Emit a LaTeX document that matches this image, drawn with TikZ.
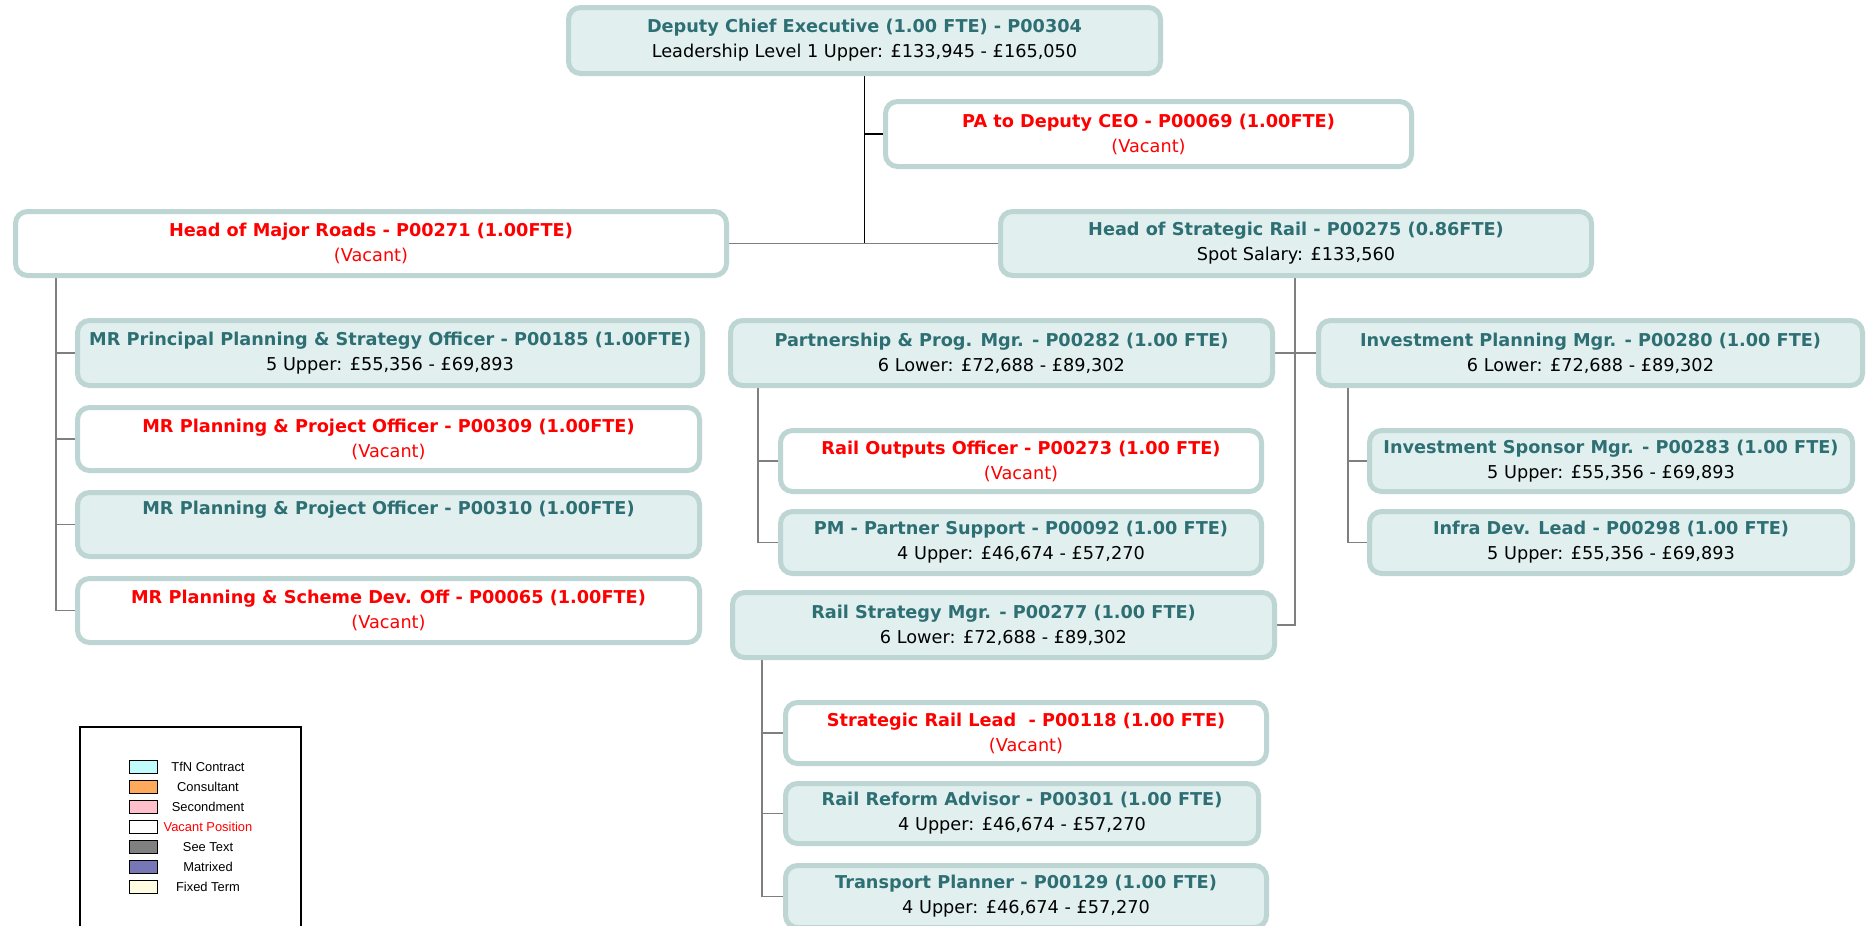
\documentclass[tikz,border=0pt]{standalone}
\usepackage{fontspec}
\setmainfont{DejaVu Sans}
\newfontfamily\legfont{Liberation Sans}
\usetikzlibrary{backgrounds}

\definecolor{edge}{HTML}{BDD5D3}
\definecolor{cell}{HTML}{E1F0EF}
\definecolor{ttl}{HTML}{2E6F74}
\definecolor{wire}{HTML}{7F7F7F}
\definecolor{tfn}{HTML}{C0FCFC}
\definecolor{consult}{HTML}{FFA95C}
\definecolor{second}{HTML}{FFC0CB}
\definecolor{seetext}{HTML}{808080}
\definecolor{matrix}{HTML}{7777B8}
\definecolor{fixed}{HTML}{FFFDE1}

\tikzset{
  post/.style={draw=edge, line width=5pt, rounded corners=12pt, fill=cell,
    align=center, inner sep=0pt, font=\fontsize{17.7}{25}\selectfont},
  vacant/.style={post, fill=white, text=red},
  link/.style={draw=wire, line width=1.8pt},
  toplink/.style={draw=black, line width=1.6pt},
  swatch/.style={draw=black, line width=1pt, minimum width=28pt, minimum height=13pt, inner sep=0pt},
  legtext/.style={font=\legfont\fontsize{12.9}{14}\selectfont, inner sep=0pt}
}

\begin{document}
\begin{tikzpicture}[x=1pt, y=-1pt]
  \clip (0,0) rectangle (1874,926);

  % top level
  \node[post, minimum width=592pt, minimum height=66pt] (dce) at (864.5,40.5)
    {{\bfseries\color{ttl}Deputy Chief Executive (1.00 FTE) - P00304}\\Leadership Level 1 Upper: £133,945 - £165,050};
  \node[vacant, minimum width=526pt, minimum height=65pt] (pa) at (1148.5,134)
    {{\bfseries PA to Deputy CEO - P00069 (1.00FTE)}\\(Vacant)};

  % heads
  \node[vacant, minimum width=711pt, minimum height=64pt] (hmr) at (371,243.5)
    {{\bfseries Head of Major Roads - P00271 (1.00FTE)}\\(Vacant)};
  \node[post, minimum width=591pt, minimum height=64pt] (hsr) at (1296,243.5)
    {{\bfseries\color{ttl}Head of Strategic Rail - P00275 (0.86FTE)}\\Spot Salary: £133,560};

  % major roads team
  \node[post, minimum width=625pt, minimum height=65pt] (mrp) at (390,353)
    {{\bfseries\color{ttl}MR Principal Planning \& Strategy Officer - P00185 (1.00FTE)}\\5 Upper: £55,356 - £69,893};
  \node[vacant, minimum width=622pt, minimum height=63pt] (mrpa) at (388.5,439)
    {{\bfseries MR Planning \& Project Officer - P00309 (1.00FTE)}\\(Vacant)};
  \node[post, minimum width=622pt, minimum height=64pt] (mrpb) at (388.5,524.5)
    {{\bfseries\color{ttl}MR Planning \& Project Officer - P00310 (1.00FTE)}\\\strut};
  \node[vacant, minimum width=622pt, minimum height=64pt] (mrsd) at (388.5,610.5)
    {{\bfseries MR Planning \& Scheme Dev. Off - P00065 (1.00FTE)}\\(Vacant)};

  % strategic rail team
  \node[post, minimum width=542pt, minimum height=65pt] (ppm) at (1001.5,353)
    {{\bfseries\color{ttl}Partnership \& Prog. Mgr. - P00282 (1.00 FTE)}\\6 Lower: £72,688 - £89,302};
  \node[post, minimum width=544pt, minimum height=65pt] (ipm) at (1590.5,353)
    {{\bfseries\color{ttl}Investment Planning Mgr. - P00280 (1.00 FTE)}\\6 Lower: £72,688 - £89,302};
  \node[vacant, minimum width=481pt, minimum height=61pt] (roo) at (1021,461)
    {{\bfseries Rail Outputs Officer - P00273 (1.00 FTE)}\\(Vacant)};
  \node[post, minimum width=481pt, minimum height=62pt] (pmps) at (1021,542.5)
    {{\bfseries\color{ttl}PM - Partner Support - P00092 (1.00 FTE)}\\4 Upper: £46,674 - £57,270};
  \node[post, minimum width=483pt, minimum height=61pt] (ism) at (1611,461)
    {{\bfseries\color{ttl}Investment Sponsor Mgr. - P00283 (1.00 FTE)}\\5 Upper: £55,356 - £69,893};
  \node[post, minimum width=483pt, minimum height=62pt] (idl) at (1611,542.5)
    {{\bfseries\color{ttl}Infra Dev. Lead - P00298 (1.00 FTE)}\\5 Upper: £55,356 - £69,893};
  \node[post, minimum width=542pt, minimum height=65pt] (rsm) at (1003.5,625)
    {{\bfseries\color{ttl}Rail Strategy Mgr. - P00277 (1.00 FTE)}\\6 Lower: £72,688 - £89,302};
  \node[vacant, minimum width=481pt, minimum height=61pt] (srl) at (1026,733)
    {{\bfseries Strategic Rail Lead \ - P00118 (1.00 FTE)}\\(Vacant)};
  \node[post, minimum width=473pt, minimum height=60pt] (rra) at (1022,813.5)
    {{\bfseries\color{ttl}Rail Reform Advisor - P00301 (1.00 FTE)}\\4 Upper: £46,674 - £57,270};
  \node[post, minimum width=481pt, minimum height=62pt] (tpl) at (1026,896.5)
    {{\bfseries\color{ttl}Transport Planner - P00129 (1.00 FTE)}\\4 Upper: £46,674 - £57,270};

  % bus points
  \coordinate (mrbus) at (56,278);
  \coordinate (srbus) at (1295,278);
  \coordinate (ppbus) at (758,388);
  \coordinate (ipbus) at (1348,388);
  \coordinate (rsbus) at (762,660);

  \begin{scope}[on background layer]
    \fill[white] (0,0) rectangle (1874,926);
    \draw[toplink] (dce.south) -- (dce.south |- hmr.east);
    \draw[toplink] (dce.south |- pa.west) -- (pa.west);
    \draw[link] (hmr.east) -- (hsr.west);
    \draw[link] (mrbus) |- (mrsd.west);
    \draw[link] (mrbus |- mrp.west) -- (mrp.west);
    \draw[link] (mrbus |- mrpa.west) -- (mrpa.west);
    \draw[link] (mrbus |- mrpb.west) -- (mrpb.west);
    \draw[link] (srbus) |- (rsm.east);
    \draw[link] (ppm.east) -- (ipm.west);
    \draw[link] (ppbus) |- (pmps.west);
    \draw[link] (ppbus |- roo.west) -- (roo.west);
    \draw[link] (ipbus) |- (idl.west);
    \draw[link] (ipbus |- ism.west) -- (ism.west);
    \draw[link] (rsbus) |- (tpl.west);
    \draw[link] (rsbus |- srl.west) -- (srl.west);
    \draw[link] (rsbus |- rra.west) -- (rra.west);
  \end{scope}

  % legend
  \draw[line width=1.2pt] (80,930) |- (301,727) -- (301,930);
  \foreach \fc/\txt/\tc [count=\i] in {tfn/TfN Contract/black, consult/Consultant/black,
      second/Secondment/black, white/Vacant Position/red, seetext/See Text/black,
      matrix/Matrixed/black, fixed/Fixed Term/black}
  {
    \node[swatch, fill=\fc] (sw\i) at (143,747+20*\i) {};
    \node[legtext, text=\tc] (lg\i) at (208,747+20*\i) {\txt};
  }
\end{tikzpicture}
\end{document}
